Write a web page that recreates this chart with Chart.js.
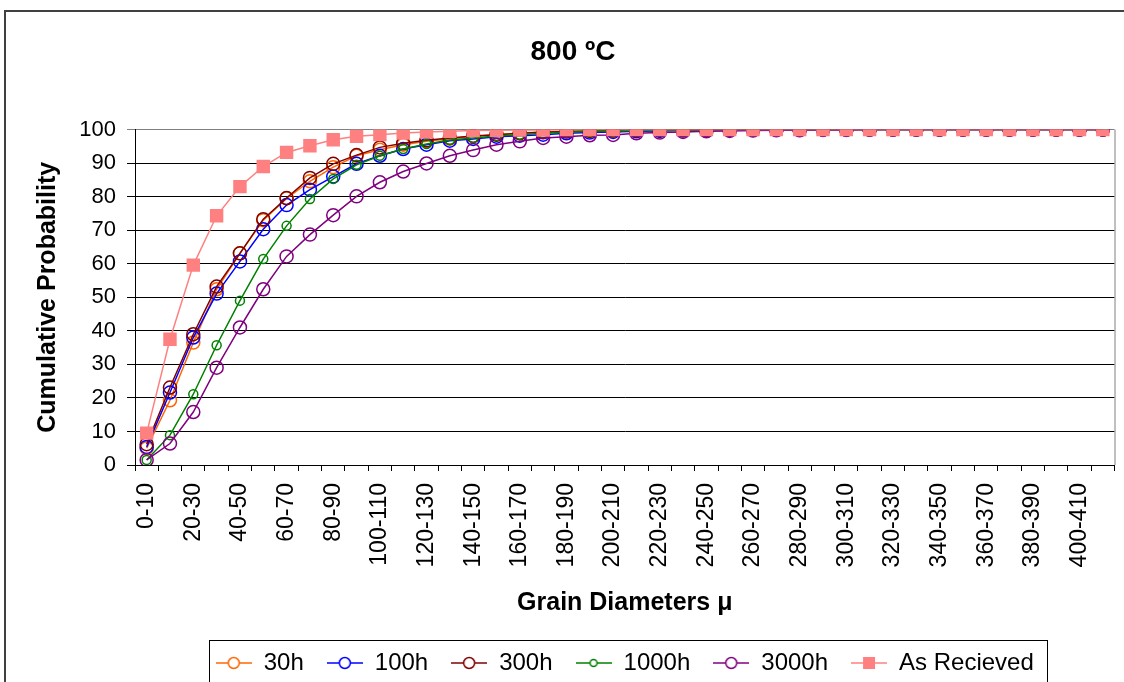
<!DOCTYPE html>
<html>
<head>
<meta charset="utf-8">
<script src="https://cdn.jsdelivr.net/npm/chart.js@4.4.1/dist/chart.umd.min.js"></script>
<style>
  html, body { margin: 0; padding: 0; background: #fff; }
  #wrap { width: 1124px; height: 682px; position: relative; }
</style>
</head>
<body>
<div id="wrap"><canvas id="grainChart"></canvas></div>
<script>
// grain size classes (µm)
const categories = [
  '0-10', '10-20', '20-30', '30-40', '40-50', '50-60', '60-70', '70-80', '80-90', '90-100',
  '100-110', '110-120', '120-130', '130-140', '140-150', '150-160', '160-170', '170-180', '180-190', '190-200',
  '200-210', '210-220', '220-230', '230-240', '240-250', '250-260', '260-270', '270-280', '280-290', '290-300',
  '300-310', '310-320', '320-330', '330-340', '340-350', '350-360', '360-370', '370-380', '380-390', '390-400',
  '400-410', '410-420'
];

// cumulative probability (%)
const h30 = [5, 19.3, 36.5, 52.4, 63.1, 73, 79.5, 84.6, 88.8, 92.2, 94, 95.5, 96.5, 97.3, 98, 98.5, 99, 99.3, 99.5, 99.6,
  99.7, 99.8, 99.9, 99.9, 100, 100, 100, 100, 100, 100, 100, 100, 100, 100, 100, 100, 100, 100, 100, 100, 100, 100];
const h100 = [5.4, 21.6, 38, 51.1, 60.7, 70.3, 77.5, 82.1, 86, 89.8, 92.2, 94.2, 95.5, 96.7, 97.2, 97.9, 98.2, 98.5, 98.9, 99.1,
  99.3, 99.5, 99.6, 99.7, 99.8, 99.9, 99.9, 100, 100, 100, 100, 100, 100, 100, 100, 100, 100, 100, 100, 100, 100, 100];
const h300 = [6.2, 23.1, 39, 53.2, 63.1, 73.3, 79.6, 85.6, 89.8, 92.4, 94.7, 95.9, 96.8, 97.5, 98.1, 98.5, 98.9, 99.2, 99.4, 99.6,
  99.7, 99.8, 99.9, 99.9, 100, 100, 100, 100, 100, 100, 100, 100, 100, 100, 100, 100, 100, 100, 100, 100, 100, 100];
const h1000 = [1.5, 8.9, 21.1, 35.7, 49, 61.4, 71.3, 79.3, 85.3, 89.5, 92.2, 94.2, 95.7, 96.9, 97.5, 98.1, 98.5, 98.9, 99.2, 99.4,
  99.5, 99.7, 99.8, 99.9, 99.9, 100, 100, 100, 100, 100, 100, 100, 100, 100, 100, 100, 100, 100, 100, 100, 100, 100];
const h3000 = [1.5, 6.4, 15.8, 29, 41, 52.4, 62.2, 68.7, 74.5, 80.1, 84.3, 87.5, 89.9, 92.2, 93.9, 95.5, 96.5, 97.5, 97.9, 98.3,
  98.4, 98.9, 99.1, 99.3, 99.5, 99.6, 99.7, 99.8, 99.8, 99.9, 99.9, 100, 100, 100, 100, 100, 100, 100, 100, 100, 100, 100];
const asRecieved = [9.5, 37.5, 59.6, 74.3, 83, 89, 93.2, 95.2, 97, 98, 98.5, 99, 99.3, 99.5, 99.7, 99.8, 99.9, 99.9, 100, 100,
  100, 100, 100, 100, 100, 100, 100, 100, 100, 100, 100, 100, 100, 100, 100, 100, 100, 100, 100, 100, 100, 100];

const FONT = "'Liberation Sans', Arial, sans-serif";

// little line + marker picture for the legend entries
function legendIcon(color, shape, r) {
  const c = document.createElement('canvas');
  c.width = 36; c.height = 20;
  const g = c.getContext('2d');
  g.strokeStyle = color;
  g.lineWidth = 1.5;
  g.beginPath(); g.moveTo(0, 10); g.lineTo(36, 10); g.stroke();
  if (shape === 'rect') {
    g.fillStyle = color;
    g.fillRect(18 - r, 10 - r, 2 * r, 2 * r);
  } else {
    g.fillStyle = '#fff';
    g.beginPath(); g.arc(18, 10, r, 0, Math.PI * 2); g.fill(); g.stroke();
  }
  return c;
}

// later series are drawn on top, as in the original spreadsheet chart
function circleSeries(label, data, color, r, order) {
  return {
    label: label,
    data: data,
    order: order,
    borderColor: color,
    borderWidth: 1.5,
    pointStyle: 'circle',
    pointRadius: r,
    pointBorderWidth: 1.5,
    pointBackgroundColor: 'transparent',
    pointBorderColor: color,
    icon: legendIcon(color, 'circle', r - 1)
  };
}

const datasets = [
  circleSeries('30h', h30, '#ff6600', 6.5, 5),
  circleSeries('100h', h100, '#0000ff', 6.5, 4),
  circleSeries('300h', h300, '#800000', 6.5, 3),
  circleSeries('1000h', h1000, '#008000', 4.5, 2),
  circleSeries('3000h', h3000, '#800080', 6.5, 1),
  {
    label: 'As Recieved',
    data: asRecieved,
    order: 0,
    borderColor: '#ff8080',
    borderWidth: 1.5,
    pointStyle: 'rect',
    pointRadius: 9.5,
    pointBorderWidth: 0,
    pointBackgroundColor: '#ff8080',
    pointBorderColor: '#ff8080',
    icon: legendIcon('#ff8080', 'rect', 6)
  }
];

const framePlugin = {
  id: 'frame',
  beforeDraw(chart) {
    const ctx = chart.ctx;
    ctx.save();
    ctx.fillStyle = '#fff';
    ctx.fillRect(0, 0, chart.width, chart.height);
    ctx.strokeStyle = '#404040';
    ctx.lineWidth = 2;
    ctx.strokeRect(5, 11, chart.width + 40, chart.height + 40);
    ctx.restore();
  },
  afterDraw(chart) {
    const ctx = chart.ctx;
    const a = chart.chartArea;
    ctx.save();
    ctx.strokeStyle = '#808080';
    ctx.lineWidth = 1;
    ctx.beginPath();
    ctx.moveTo(a.right + 0.5, a.top);
    ctx.lineTo(a.right + 0.5, a.bottom);
    ctx.stroke();
    const hb = chart.legend.legendHitBoxes;
    if (hb && hb.length) {
      const first = hb[0];
      const last = hb[hb.length - 1];
      const cy = first.top + first.height / 2;
      ctx.strokeStyle = '#000';
      ctx.strokeRect(Math.round(first.left - 7) + 0.5, Math.round(cy - 23) + 0.5,
        Math.round(last.left + last.width - first.left + 20), 80);
    }
    ctx.restore();
  }
};

Chart.defaults.font.family = FONT;
Chart.defaults.color = '#000';

new Chart(document.getElementById('grainChart'), {
  type: 'line',
  data: { labels: categories, datasets: datasets },
  plugins: [framePlugin],
  options: {
    responsive: true,
    maintainAspectRatio: false,
    animation: false,
    layout: { padding: { left: 25, right: 3, top: 0, bottom: -3 } },
    plugins: {
      title: {
        display: true,
        text: '800 ºC',
        color: '#000',
        font: { family: FONT, size: 28, weight: 'bold' },
        padding: { top: 35, bottom: 61 }
      },
      legend: {
        position: 'bottom',
        fullSize: false,
        labels: {
          usePointStyle: true,
          pointStyleWidth: 36,
          padding: 23,
          color: '#000',
          font: { family: FONT, size: 24, lineHeight: 1 },
          sort: (a, b) => a.datasetIndex - b.datasetIndex,
          generateLabels(chart) {
            const items = Chart.defaults.plugins.legend.labels.generateLabels(chart);
            items.forEach(it => { it.pointStyle = chart.data.datasets[it.datasetIndex].icon; });
            return items;
          }
        }
      },
      tooltip: { enabled: false }
    },
    scales: {
      x: {
        offset: true,
        grid: { offset: true, drawOnChartArea: false, color: '#000', tickLength: 6 },
        border: { color: '#000', width: 1 },
        ticks: {
          autoSkip: false,
          minRotation: 90,
          maxRotation: 90,
          padding: 12,
          font: { family: FONT, size: 23 },
          callback: function (val, i) { return i % 2 === 0 ? this.getLabelForValue(val) : ''; }
        },
        title: {
          display: true,
          text: 'Grain Diameters μ',
          font: { family: FONT, size: 25, weight: 'bold' },
          padding: { top: 0, bottom: 10 }
        },
        afterFit(scale) {
          scale.height = 163;
          scale.paddingLeft = 0;
          scale.paddingRight = 0;
        }
      },
      y: {
        min: 0,
        max: 100,
        ticks: { stepSize: 10, padding: 11, font: { family: FONT, size: 22 } },
        grid: {
          color: ctx => (ctx.tick && ctx.tick.value === 100 ? '#808080' : '#000'),
          tickLength: 8,
          lineWidth: 1
        },
        border: { color: '#000', width: 1 },
        title: {
          display: true,
          text: 'Cumulative Probability',
          font: { family: FONT, size: 25, weight: 'bold' },
          padding: { top: 8, bottom: 0 }
        },
        afterFit(scale) {
          scale.width = 110;
          scale.paddingTop = 0;
          scale.paddingBottom = 0;
        }
      }
    }
  }
});
</script>
</body>
</html>
